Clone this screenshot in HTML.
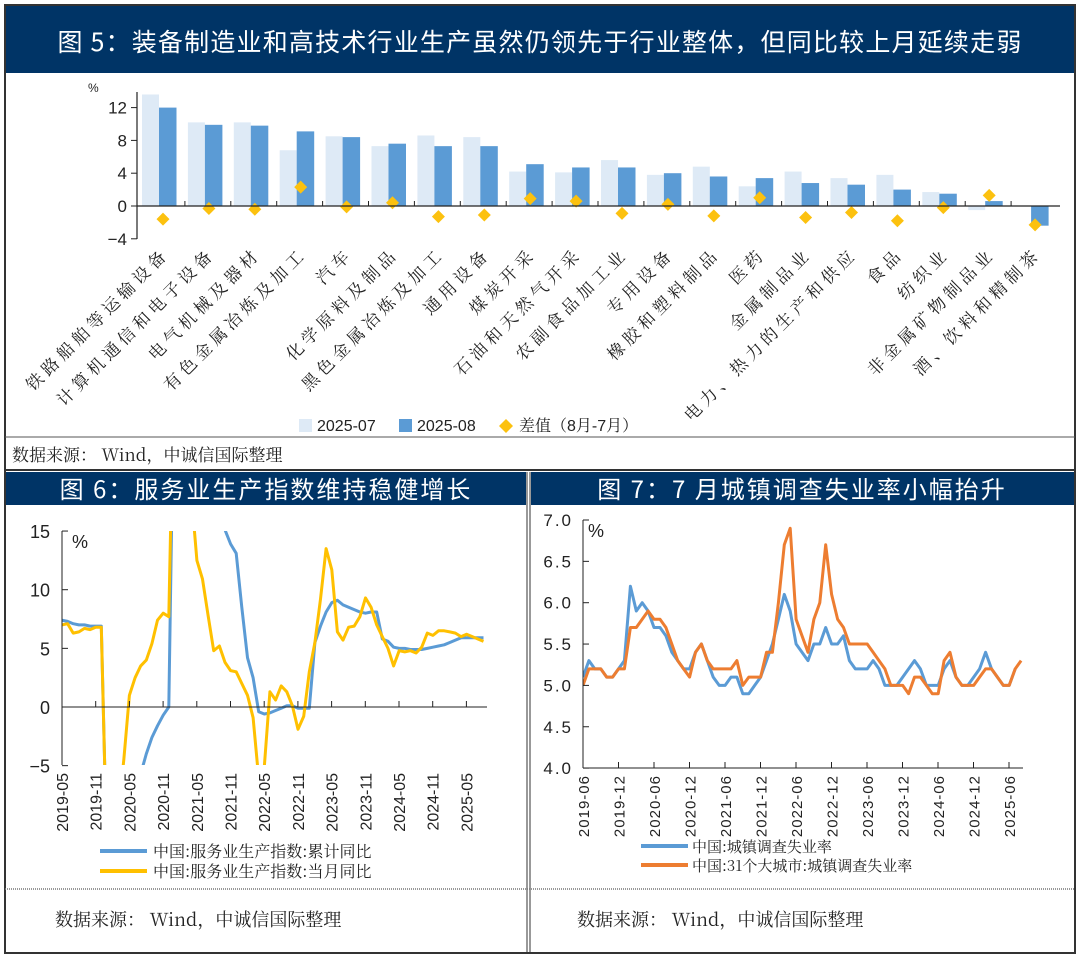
<!DOCTYPE html>
<html><head><meta charset="utf-8">
<style>
body{margin:0;background:#fff;width:1080px;height:957px;overflow:hidden;font-family:"Liberation Sans","Noto Sans CJK SC",sans-serif}
svg{position:absolute;left:0;top:0}
</style></head><body>
<svg id="s" width="1080" height="957" xmlns="http://www.w3.org/2000/svg">
<defs>
<clipPath id="c1"><rect x="62" y="531" width="440" height="234"/></clipPath>
<clipPath id="c2"><rect x="583" y="515" width="460" height="255"/></clipPath>
</defs>
<rect x="5" y="5" width="1070" height="948" fill="none" stroke="#333" stroke-width="2"/>
<rect x="6" y="6" width="1068" height="67" fill="#003466"/>
<text x="540" y="51" fill="#fff" font-size="25" text-anchor="middle" font-family="Noto Sans CJK SC,sans-serif" letter-spacing="1.2">图 5：装备制造业和高技术行业生产虽然仍领先于行业整体，但同比较上月延续走弱</text>
<line x1="5" y1="437" x2="1075" y2="437" stroke="#555" stroke-width="1"/>
<text x="12" y="461" font-size="17" font-family="Noto Serif CJK SC,serif" fill="#222">数据来源： Wind，中诚信国际整理</text>
<line x1="5" y1="470" x2="1075" y2="470" stroke="#333" stroke-width="2"/>
<rect x="6" y="472" width="520" height="33" fill="#003466"/>
<rect x="531" y="472" width="543" height="33" fill="#003466"/>
<text x="266" y="498" fill="#fff" font-size="24" text-anchor="middle" font-family="Noto Sans CJK SC,sans-serif" letter-spacing="2">图 6：服务业生产指数维持稳健增长</text>
<text x="802" y="498" fill="#fff" font-size="24" text-anchor="middle" font-family="Noto Sans CJK SC,sans-serif" letter-spacing="2">图 7：7 月城镇调查失业率小幅抬升</text>
<line x1="527" y1="472" x2="527" y2="953" stroke="#333" stroke-width="1"/>
<line x1="530" y1="472" x2="530" y2="953" stroke="#333" stroke-width="1"/>
<line x1="5" y1="889" x2="1075" y2="889" stroke="#777" stroke-width="1.5" stroke-dasharray="1,1"/>
<text x="55" y="926" font-size="18" font-family="Noto Serif CJK SC,serif" fill="#222">数据来源： Wind，中诚信国际整理</text>
<text x="577" y="926" font-size="18" font-family="Noto Serif CJK SC,serif" fill="#222">数据来源： Wind，中诚信国际整理</text>
<g id="g"></g>
</svg>
<script>
var G=document.getElementById('g'),h='';
var y0=206,k=8.2;
function Y(v){return y0-v*k}
var cats=["铁路船舶等运输设备","计算机通信和电子设备","电气机械及器材","有色金属冶炼及加工","汽车","化学原料及制品","黑色金属冶炼及加工","通用设备","煤炭开采","石油和天然气开采","农副食品加工业","专用设备","橡胶和塑料制品","医药","金属制品业","电力、热力的生产和供应","食品","纺织业","非金属矿物制品业","酒、饮料和精制茶"];
var a=[13.6,10.2,10.2,6.8,8.5,7.3,8.6,8.4,4.2,4.1,5.6,3.8,4.8,2.4,4.2,3.4,3.8,1.7,-0.5,0];
var b=[12.0,9.9,9.8,9.1,8.4,7.6,7.3,7.3,5.1,4.7,4.7,4.0,3.6,3.4,2.8,2.6,2.0,1.5,0.6,-2.4];
var d=[-1.6,-0.3,-0.4,2.3,-0.1,0.4,-1.3,-1.1,0.9,0.6,-0.9,0.2,-1.2,1.0,-1.4,-0.8,-1.8,-0.2,1.3,-2.3];
for(var i=0;i<20;i++){var L=142+45.9*i;
 h+='<rect x="'+L+'" y="'+Math.min(Y(a[i]),y0)+'" width="17" height="'+Math.abs(a[i]*k)+'" fill="#deeaf6"/>';
 h+='<rect x="'+(L+17)+'" y="'+Math.min(Y(b[i]),y0)+'" width="17.5" height="'+Math.abs(b[i]*k)+'" fill="#5b9bd5"/>';
 var cx=L+21,cy=Y(d[i]);
 h+='<path d="M'+cx+' '+(cy-6.5)+'L'+(cx+6.5)+' '+cy+'L'+cx+' '+(cy+6.5)+'L'+(cx-6.5)+' '+cy+'Z" fill="#fcc10f"/>';
 if(i>0)h+='<line x1="'+(L-3)+'" y1="'+y0+'" x2="'+(L-3)+'" y2="'+(y0-5)+'" stroke="#222"/>';
 h+='<text transform="translate('+(L+28)+',255) rotate(-45)" text-anchor="end" font-size="17" letter-spacing="4.5" font-family="Noto Serif CJK SC,serif" fill="#222">'+cats[i]+'</text>';
}
h+='<line x1="137" y1="'+y0+'" x2="1060" y2="'+y0+'" stroke="#222" stroke-width="1.2"/>';
h+='<line x1="137" y1="92" x2="137" y2="239" stroke="#222" stroke-width="1.2"/>';
[12,8,4,0,-4].forEach(function(v){h+='<line x1="131" y1="'+Y(v)+'" x2="137" y2="'+Y(v)+'" stroke="#222"/><text x="127" y="'+(Y(v)+6)+'" text-anchor="end" font-size="17" fill="#222">'+(v<0?'−4':v)+'</text>';});
h+='<text x="88" y="92" font-size="12" fill="#222">%</text>';
h+='<rect x="299" y="419" width="13" height="13" fill="#deeaf6"/><text x="317" y="431" font-size="16" fill="#222">2025-07</text>';
h+='<rect x="399" y="419" width="13" height="13" fill="#5b9bd5"/><text x="417" y="431" font-size="16" fill="#222">2025-08</text>';
h+='<path d="M506 419L513 426L506 433L499 426Z" fill="#fcc10f"/><text x="519" y="431" font-size="16" font-family="Liberation Sans,Noto Serif CJK SC,serif" fill="#222">差值（8月-7月）</text>';
function ly(v){return 707-v*11.73}function lx(i){return 62+i*5.62}
var blue=[7.4,7.3,7.1,7.0,7.0,6.9,6.9,6.9,-13,-13,-12,-11.2,-9,-6.9,-5.7,-4.0,-2.6,-1.6,-0.7,0,31,31,25,19,17,16.5,16,15.6,15.4,15.1,13.9,13.1,8.5,4.2,2.5,-0.4,-0.6,-0.5,-0.3,-0.1,0.1,0.1,-0.1,-0.1,-0.1,5.5,6.9,8.1,8.9,9.1,8.7,8.5,8.3,8.1,8.0,8.1,8.1,5.8,5.6,5.1,5.0,5.0,4.9,4.9,4.9,5.0,5.1,5.2,5.3,5.5,5.7,5.9,5.9,5.9,5.9,5.9];
var yel=[7.0,7.1,6.3,6.4,6.7,6.6,6.8,6.8,-13,-13,-9.1,-4.5,1.0,2.5,3.5,4.0,5.4,7.4,8.0,7.7,31,31,25.3,18.2,12.5,10.9,7.8,4.8,5.2,3.8,3.1,3.0,2.0,1.0,-0.9,-6.1,-5.1,1.3,0.6,1.8,1.3,0.1,-1.9,-0.8,3.0,5.5,9.2,13.5,11.7,6.4,5.7,6.8,6.9,7.7,9.3,8.5,7.0,6.0,5.0,3.5,4.8,4.7,4.8,4.6,5.1,6.3,6.1,6.5,6.5,6.4,6.3,6.0,6.2,6.0,5.8,5.6];
function path(arr,fx,fy){return arr.map(function(v,i){return (i?'L':'M')+fx(i).toFixed(1)+' '+fy(v).toFixed(1)}).join('')}
h+='<g clip-path="url(#c1)"><path d="'+path(blue,lx,ly)+'" fill="none" stroke="#5b9bd5" stroke-width="3" stroke-linejoin="round"/><path d="'+path(yel,lx,ly)+'" fill="none" stroke="#ffc000" stroke-width="3" stroke-linejoin="round"/></g>';
h+='<line x1="62" y1="531" x2="62" y2="765" stroke="#222"/><line x1="62" y1="707" x2="487" y2="707" stroke="#222"/>';
[15,10,5,0,-5].forEach(function(v){h+='<line x1="62" y1="'+ly(v)+'" x2="68" y2="'+ly(v)+'" stroke="#222"/><text x="50" y="'+(ly(v)+7)+'" text-anchor="end" font-size="18" fill="#222">'+(v<0?'−5':v)+'</text>';});
h+='<text x="72" y="548" font-size="18" fill="#222">%</text>';
var ll=['2019-05','2019-11','2020-05','2020-11','2021-05','2021-11','2022-05','2022-11','2023-05','2023-11','2024-05','2024-11','2025-05'];
ll.forEach(function(t,i){var x=62+i*33.7;if(i>0)h+='<line x1="'+x+'" y1="707" x2="'+x+'" y2="701" stroke="#222"/>';h+='<text transform="translate('+(x+6)+',773) rotate(-90)" text-anchor="end" font-size="16" fill="#222">'+t+'</text>';});
h+='<line x1="100" y1="851" x2="147" y2="851" stroke="#5b9bd5" stroke-width="4"/><text x="153" y="857" font-size="16" font-family="Noto Serif CJK SC,serif" fill="#222">中国:服务业生产指数:累计同比</text>';
h+='<line x1="100" y1="871" x2="147" y2="871" stroke="#ffc000" stroke-width="4"/><text x="153" y="877" font-size="16" font-family="Noto Serif CJK SC,serif" fill="#222">中国:服务业生产指数:当月同比</text>';
function ry(v){return 520+(7-v)*82.7}function rx(i){return 583+i*5.92}
var nat=[5.1,5.3,5.2,5.2,5.1,5.1,5.2,5.3,6.2,5.9,6.0,5.9,5.7,5.7,5.6,5.4,5.3,5.2,5.2,5.4,5.5,5.3,5.1,5.0,5.0,5.1,5.1,4.9,4.9,5.0,5.1,5.3,5.5,5.8,6.1,5.9,5.5,5.4,5.3,5.5,5.5,5.7,5.5,5.5,5.6,5.3,5.2,5.2,5.2,5.3,5.2,5.0,5.0,5.0,5.1,5.2,5.3,5.2,5.0,5.0,5.0,5.2,5.3,5.1,5.0,5.0,5.1,5.2,5.4,5.2,5.1,5.0,5.0,5.2];
var c31=[5.0,5.2,5.2,5.2,5.1,5.1,5.2,5.2,5.7,5.7,5.8,5.9,5.8,5.8,5.7,5.5,5.3,5.2,5.1,5.4,5.5,5.3,5.2,5.2,5.2,5.2,5.3,5.0,5.1,5.1,5.1,5.4,5.4,6.0,6.7,6.9,5.8,5.6,5.4,5.8,6.0,6.7,6.1,5.8,5.7,5.5,5.5,5.5,5.5,5.4,5.3,5.2,5.0,5.0,5.0,4.9,5.1,5.1,5.0,4.9,4.9,5.3,5.4,5.1,5.0,5.0,5.0,5.1,5.2,5.2,5.1,5.0,5.0,5.2,5.3];
h+='<g clip-path="url(#c2)"><path d="'+path(nat,rx,ry)+'" fill="none" stroke="#5b9bd5" stroke-width="3" stroke-linejoin="round"/><path d="'+path(c31,rx,ry)+'" fill="none" stroke="#ed7d31" stroke-width="3" stroke-linejoin="round"/></g>';
h+='<line x1="583" y1="520" x2="583" y2="768" stroke="#222"/><line x1="583" y1="768" x2="1023" y2="768" stroke="#222"/>';
[7,6.5,6,5.5,5,4.5,4].forEach(function(v){h+='<line x1="583" y1="'+ry(v)+'" x2="589" y2="'+ry(v)+'" stroke="#222"/><text x="573" y="'+(ry(v)+6)+'" text-anchor="end" font-size="17" fill="#222" letter-spacing="2">'+v.toFixed(1)+'</text>';});
h+='<text x="588" y="537" font-size="18" fill="#222">%</text>';
var rl=['2019-06','2019-12','2020-06','2020-12','2021-06','2021-12','2022-06','2022-12','2023-06','2023-12','2024-06','2024-12','2025-06'];
rl.forEach(function(t,i){var x=583+i*35.5;if(i>0)h+='<line x1="'+x+'" y1="768" x2="'+x+'" y2="762" stroke="#222"/>';h+='<text transform="translate('+(x+6)+',775) rotate(-90)" text-anchor="end" font-size="15" fill="#222" letter-spacing="1">'+t+'</text>';});
h+='<line x1="641" y1="846" x2="688" y2="846" stroke="#5b9bd5" stroke-width="4"/><text x="692" y="852" font-size="15" font-family="Noto Serif CJK SC,serif" fill="#222">中国:城镇调查失业率</text>';
h+='<line x1="641" y1="865" x2="688" y2="865" stroke="#ed7d31" stroke-width="4"/><text x="692" y="871" font-size="15" font-family="Noto Serif CJK SC,serif" fill="#222">中国:31个大城市:城镇调查失业率</text>';
G.innerHTML=h;
</script>
</body></html>
